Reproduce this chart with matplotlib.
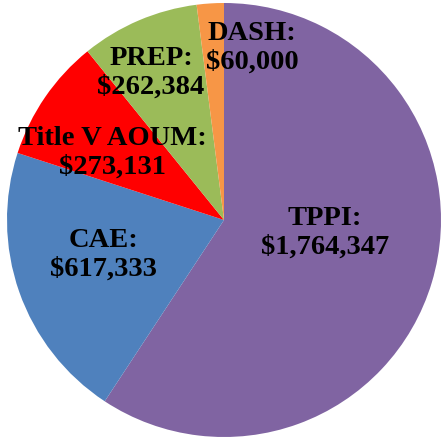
'''
Pie chart of funding by program
'''

import matplotlib
matplotlib.use('Agg')
import matplotlib.pyplot as plt

programs = ['TPPI', 'CAE', 'Title V AOUM', 'PREP', 'DASH']
amounts = [1764347, 617333, 273131, 262384, 60000]
colors = ['#8064A2', '#4F81BD', '#FF0000', '#9BBB59', '#F79646']

# label centers in pie units (radius = 1)
label_pos = [(0.465, -0.06), (-0.557, -0.16), (-0.516, 0.31), (-0.336, 0.68), (0.129, 0.795)]

W, H = 442, 438
cx, cy, r = 224, 220, 217

fig = plt.figure(figsize=(W / 100, H / 100), dpi=100)
ax = fig.add_axes([0, 0, 1, 1])
ax.pie(amounts, colors=colors, startangle=90, counterclock=False,
       radius=1, wedgeprops=dict(linewidth=0))

for name, val, (x, y) in zip(programs, amounts, label_pos):
    ax.text(x, y, f'{name}:\n${val:,}', ha='center', va='center',
            fontsize=20.5, fontweight='bold', family='Liberation Serif',
            linespacing=1.2)

ax.set_xlim(-cx / r, (W - cx) / r)
ax.set_ylim(-(H - cy) / r, cy / r)
ax.set_aspect('auto')
ax.axis('off')

fig.savefig('out.png', dpi=100)
